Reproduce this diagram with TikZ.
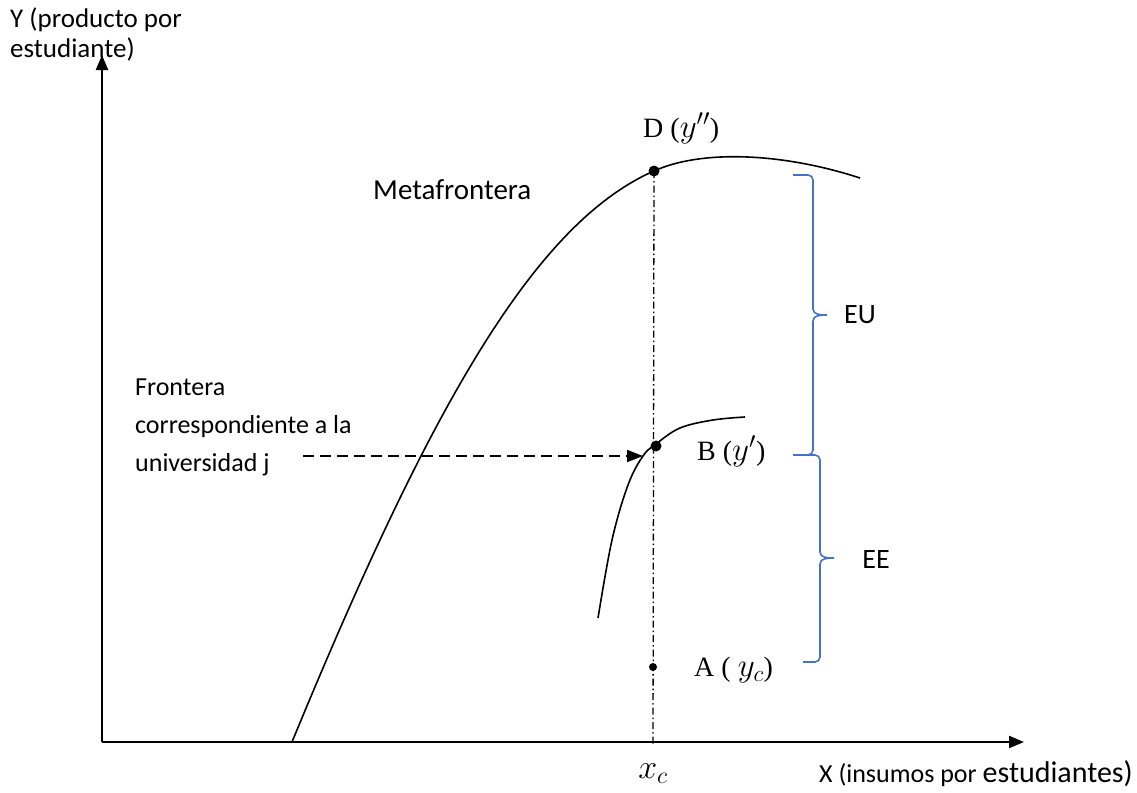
\RequirePackage{fix-cm}
\documentclass[tikz,border=0pt]{standalone}
\usepackage{fontspec}
\setmainfont{Carlito}
\newfontfamily\serif{Liberation Serif}
\usetikzlibrary{arrows.meta}
\definecolor{braceblue}{RGB}{68,114,196}
\newcommand{\largemath}[1]{{\fontsize{33}{36}\selectfont$#1$}}
\tikzset{
  axis/.style={line width=2.2pt,-{Triangle[length=15pt,width=12pt]}},
  curve/.style={line width=1.6pt},
  dot/.style={circle,fill=black,inner sep=0pt,minimum size=11pt},
  smalldot/.style={circle,fill=black,inner sep=0pt,minimum size=8pt},
  brace/.style={draw=braceblue,line width=1.6pt},
  lbl/.style={inner sep=0pt,font=\fontsize{26}{32}\selectfont},
  serlbl/.style={inner sep=0pt,font=\serif\fontsize{28}{34}\selectfont},
  dashdot/.style={line width=1.3pt,dash pattern=on 7pt off 3pt on 1.5pt off 3pt},
}
\begin{document}
\begin{tikzpicture}[x=1pt,y=-1pt]
\useasboundingbox (0,0) rectangle (1137,792);
% axes
\coordinate (O) at (102,742);
\coordinate (Ytip) at (102,55);
\coordinate (Xtip) at (1024,742);
\draw[axis] (O) -- (Ytip);
\draw[axis] (O) -- (Xtip);
% points
\node[dot] (D) at (654,171) {};
\node[dot] (B) at (656,446) {};
\node[smalldot] (A) at (653,667) {};
\coordinate (Vbot) at (653,746);
\draw[dashdot] (D.center) -- (Vbot);
% metafrontier
\coordinate (M0) at (292,742);
\coordinate (M2) at (860,178);
\draw[curve] (M0) .. controls (428,412) and (533,224) .. (D.center)
  .. controls (700,150) and (780,152) .. (M2);
% university frontier
\draw[curve] plot[smooth,tension=0.6] coordinates {(598,618) (612,540) (628,485) (643,456) (656,444) (680,428) (713,420) (745,417)};
% dashed arrow
\coordinate (Fs) at (303,456);
\coordinate (Fe) at (643,456);
\draw[line width=1.8pt,dash pattern=on 11pt off 6pt,-{Triangle[length=16pt,width=12pt]}] (Fs) -- (Fe);
% braces
\draw[brace] (793,175) -- (808,175) to[out=0,in=90] (813,180) -- (813,309)
  to[out=-90,in=180] (827,315) to[out=180,in=90] (813,321) -- (813,450)
  to[out=-90,in=0] (808,455) -- (793,455);
\draw[brace] (800,455) -- (815,455) to[out=0,in=90] (820,460) -- (820,552)
  to[out=-90,in=180] (834,558) to[out=180,in=90] (820,564) -- (820,657)
  to[out=-90,in=0] (815,662) -- (803,662);
% labels
\node[lbl,anchor=north west,align=left,font=\fontsize{27}{30}\selectfont] (ylab) at (10,8) {Y (producto por\\estudiante)};
\node[lbl,anchor=west,font=\fontsize{29}{34}\selectfont] (meta) at (373,190) {Metafrontera};
\node[lbl,anchor=west,align=left,font=\fontsize{26}{38}\selectfont] (front) at (135,427) {Frontera\\correspondiente a la\\universidad j};
\node[lbl,font=\fontsize{28}{34}\selectfont] (eu) at (860,315) {EU};
\node[lbl,font=\fontsize{28}{34}\selectfont] (ee) at (876,560) {EE};
\node[serlbl,anchor=west] (dl) at (643,128) {D (\largemath{y^{\prime\prime}})};
\node[serlbl,anchor=west] (bl) at (697,451) {B (\largemath{y^{\prime}})};
\node[serlbl,anchor=west] (al) at (694,670) {A ( \largemath{y_c})};
\node[lbl,font=\fontsize{34}{38}\selectfont] (xc) at (653,774) {$x_c$};
\node[lbl,anchor=base east] (xlab) at (1133,782) {{\fontsize{26}{30}\selectfont X (insumos por }{\fontsize{30}{34}\selectfont estudiantes)}};
\end{tikzpicture}
\end{document}
